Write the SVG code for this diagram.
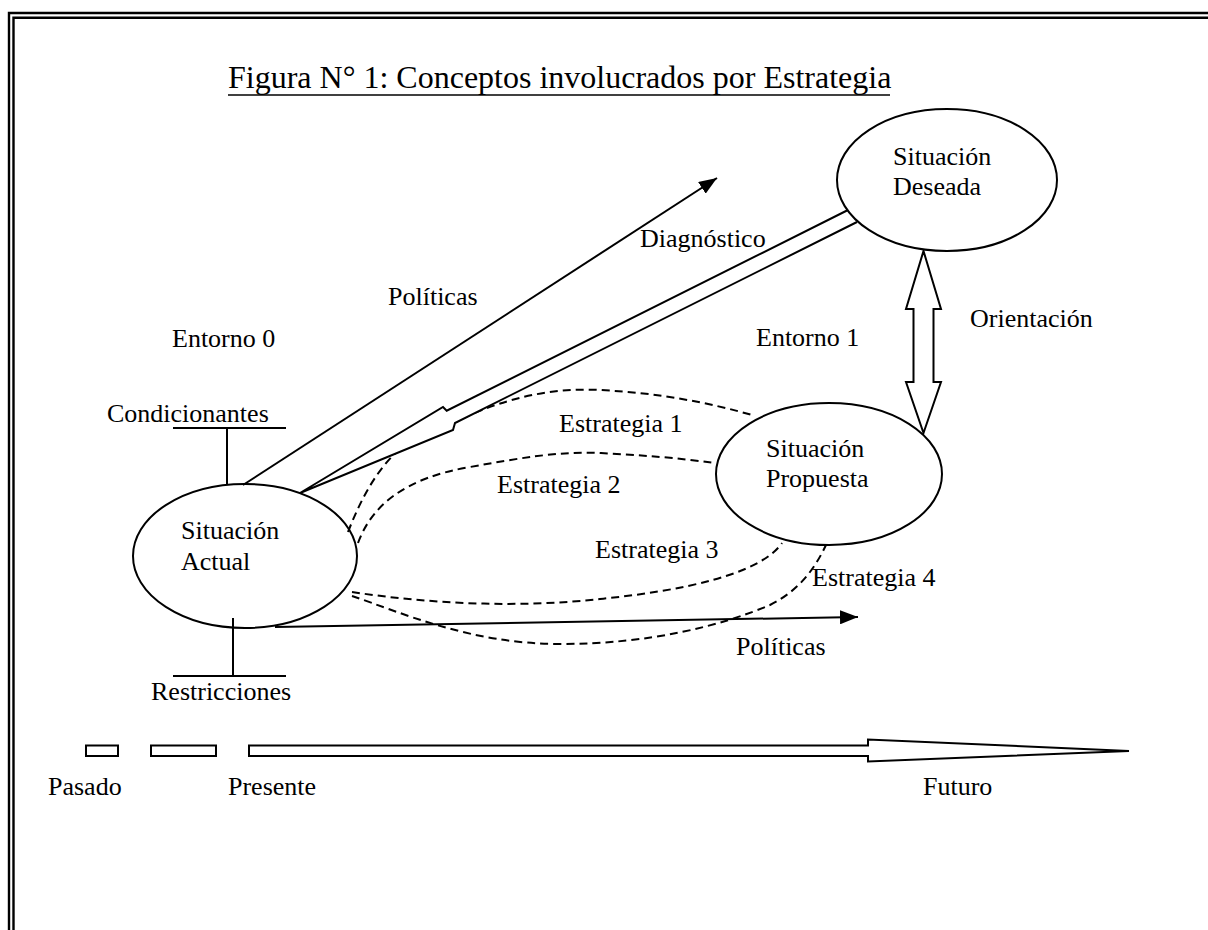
<svg xmlns="http://www.w3.org/2000/svg" width="1208" height="930" viewBox="0 0 1208 930">
  <style>
    .lbl { font-family: "Liberation Serif", "Times New Roman", serif; font-size: 26px; fill: #000; }
    .title { font-family: "Liberation Serif", "Times New Roman", serif; font-size: 32px; fill: #000; }
    .ln { fill: none; stroke: #000; stroke-width: 2; }
    .dash { fill: none; stroke: #000; stroke-width: 2; stroke-dasharray: 8 5; }
    .node { fill: #fff; stroke: #000; stroke-width: 2; }
    .frame { fill: none; stroke: #000; stroke-width: 2.4; }
  </style>
  <defs>
    <marker id="head" markerUnits="userSpaceOnUse" markerWidth="20" markerHeight="14" refX="18" refY="7" orient="auto">
      <path d="M0,0 L18,7 L0,14 Z" fill="#000"/>
    </marker>
  </defs>

  <rect width="1208" height="930" fill="#fff"/>

  <!-- double page frame -->
  <path class="frame" d="M9 930 V13 H1208"/>
  <path class="frame" d="M13.5 930 V17.8 H1208"/>

  <!-- title -->
  <text class="title" x="228" y="88">Figura N° 1: Conceptos involucrados por Estrategia</text>
  <line x1="228" y1="95" x2="890" y2="95" stroke="#000" stroke-width="1.6"/>

  <g id="connectors">
    <!-- strategies (dashed) -->
    <path class="dash" d="M348 532 C362 496 378 468 400 449 L472 414 C520 394 560 388 600 390 C660 393 710 403 752 415"/>
    <path class="dash" d="M358 543 C372 505 405 478 470 467 C520 458 560 451 600 453 C640 455 680 458 714 463"/>
    <path class="dash" d="M352 592 C430 604 520 608 600 599 C680 591 760 575 782 543"/>
    <path class="dash" d="M352 596 C400 612 470 644 560 644 C650 644 720 626 770 605 C800 590 815 568 826 545"/>

    <!-- Diagnóstico: hollow arrow from desired to current situation -->
    <path id="diagnostico" d="M848 210 L446.7 410.7 L443 407 L300 493 L453 430 L455 423 L857 222" fill="#fff" stroke="#000" stroke-width="2" stroke-linejoin="miter"/>

    <!-- Políticas arrows -->
    <line class="ln" x1="243" y1="485" x2="717" y2="178" marker-end="url(#head)"/>
    <line class="ln" x1="275" y1="627" x2="858" y2="617" marker-end="url(#head)"/>

    <!-- Orientación: two-headed hollow arrow -->
    <path d="M923.5 251 L941 309 L933.5 309 L933.5 382 L941 382 L923.5 433 L906 382 L913.5 382 L913.5 309 L906 309 Z" fill="#fff" stroke="#000" stroke-width="2"/>

    <!-- Condicionantes / Restricciones bars -->
    <path class="ln" d="M173 428 H286 M227 428 V485"/>
    <path class="ln" d="M173 676 H286 M233 618 V676"/>
  </g>

  <g id="situacion-deseada">
    <ellipse class="node" cx="947" cy="180" rx="110" ry="71"/>
    <text class="lbl" x="893" y="165">Situación</text>
    <text class="lbl" x="893" y="195">Deseada</text>
  </g>

  <g id="situacion-propuesta">
    <ellipse class="node" cx="829" cy="474" rx="113" ry="71" fill="none" style="fill:none"/>
    <text class="lbl" x="766" y="457">Situación</text>
    <text class="lbl" x="766" y="487">Propuesta</text>
  </g>

  <g id="situacion-actual">
    <ellipse class="node" cx="245" cy="556" rx="112" ry="72" style="fill:none"/>
    <text class="lbl" x="181" y="539">Situación</text>
    <text class="lbl" x="181" y="570">Actual</text>
  </g>

  <g id="labels">
    <text class="lbl" x="640" y="247">Diagnóstico</text>
    <text class="lbl" x="388" y="305">Políticas</text>
    <text class="lbl" x="756" y="346">Entorno 1</text>
    <text class="lbl" x="172" y="347">Entorno 0</text>
    <text class="lbl" x="970" y="327">Orientación</text>
    <text class="lbl" x="107" y="422">Condicionantes</text>
    <text class="lbl" x="559" y="432">Estrategia 1</text>
    <text class="lbl" x="497" y="493">Estrategia 2</text>
    <text class="lbl" x="595" y="558">Estrategia 3</text>
    <text class="lbl" x="812" y="586">Estrategia 4</text>
    <text class="lbl" x="736" y="655">Políticas</text>
    <text class="lbl" x="151" y="700">Restricciones</text>
  </g>

  <g id="timeline">
    <rect x="86" y="745.5" width="32" height="10.5" fill="#fff" stroke="#000" stroke-width="2"/>
    <rect x="151" y="745.5" width="65" height="10.5" fill="#fff" stroke="#000" stroke-width="2"/>
    <path d="M249 745.5 H868 V739.5 L1129 751 L868 761.5 V756 H249 Z" fill="#fff" stroke="#000" stroke-width="2"/>
    <text class="lbl" x="48" y="795">Pasado</text>
    <text class="lbl" x="228" y="795">Presente</text>
    <text class="lbl" x="923" y="795">Futuro</text>
  </g>
</svg>
